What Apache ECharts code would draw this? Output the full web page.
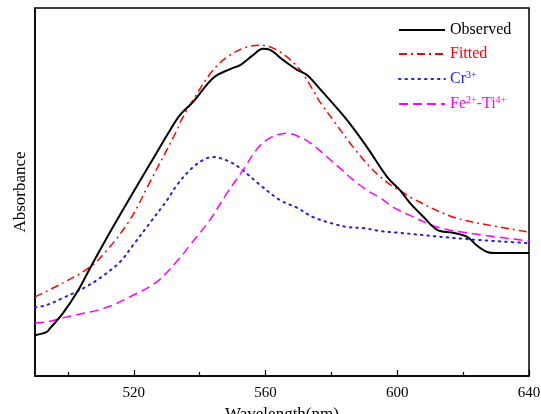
<!DOCTYPE html>
<html>
<head>
<meta charset="utf-8">
<script src="https://cdn.jsdelivr.net/npm/echarts@6/dist/echarts.min.js"></script>
<style>html,body{margin:0;padding:0;background:#fff}#c{width:541px;height:414px}</style>
</head>
<body>
<div id="c"></div>
<script>
// Wavelength (nm) and absorbance (arbitrary units)
var observedX = [490, 493.6, 494.6, 498.5, 502.8, 506.7, 509.7, 514.2, 518.8, 524.9, 531.0, 534.0, 538.0, 544.1, 549.2, 552.3, 556.2, 559.2, 561.4, 565.3, 569.6, 572.6, 576.5, 584.7, 590.8, 596.9, 600.8, 603.9, 608, 612.1, 616.9, 621.2, 624.0, 627.3, 630.0, 640];
var observedY = [0.111, 0.120, 0.130, 0.171, 0.228, 0.293, 0.342, 0.413, 0.484, 0.576, 0.668, 0.709, 0.745, 0.810, 0.834, 0.845, 0.872, 0.889, 0.886, 0.859, 0.832, 0.818, 0.780, 0.696, 0.622, 0.541, 0.505, 0.470, 0.432, 0.397, 0.389, 0.378, 0.356, 0.337, 0.334, 0.334];

var fittedX = [490, 498.5, 506.7, 511.9, 518.8, 524.9, 533.1, 534.0, 538.0, 544.1, 549.2, 554.4, 558.3, 562.3, 566.5, 570.5, 574.4, 576.5, 580.5, 586.6, 592.6, 598.7, 600.8, 603.9, 616.9, 628, 640];
var fittedY = [0.215, 0.253, 0.296, 0.342, 0.424, 0.527, 0.668, 0.688, 0.750, 0.832, 0.872, 0.894, 0.899, 0.891, 0.867, 0.832, 0.777, 0.745, 0.696, 0.622, 0.560, 0.514, 0.505, 0.486, 0.432, 0.410, 0.391];

var crX = [490, 493.6, 498.5, 504.8, 509.7, 515.8, 519.8, 524.9, 530.1, 533.1, 537.1, 541.0, 544.1, 546.2, 549.2, 552.3, 557.7, 564.4, 569.6, 574.4, 579.6, 584.7, 589.6, 594.8, 600.8, 621.2, 640];
var crY = [0.186, 0.193, 0.212, 0.239, 0.266, 0.310, 0.356, 0.416, 0.478, 0.519, 0.560, 0.587, 0.595, 0.592, 0.582, 0.565, 0.524, 0.478, 0.457, 0.432, 0.416, 0.405, 0.402, 0.394, 0.389, 0.372, 0.361];

var feTiX = [490, 493.6, 498.5, 503.4, 509.1, 513.7, 518.8, 526.9, 534.0, 537.1, 543.1, 548.3, 553.2, 557.7, 561.4, 566.5, 570.5, 574.4, 578.7, 582.6, 586.6, 590.8, 594.8, 598.7, 603.0, 612.1, 621.2, 640];
var feTiY = [0.144, 0.147, 0.158, 0.168, 0.179, 0.193, 0.215, 0.255, 0.321, 0.356, 0.424, 0.497, 0.560, 0.620, 0.647, 0.660, 0.649, 0.628, 0.595, 0.565, 0.533, 0.505, 0.484, 0.459, 0.440, 0.405, 0.389, 0.367];

var majorTicks = [520, 560, 600, 640];
var minorTicks = [500, 540, 580, 620];

var seriesNames = ['Observed', 'Fitted', 'Cr3+', 'Fe2+-Ti4+'];
var seriesColors = ['#000000', '#ff0000', '#2020e0', '#ff00ff'];

function zip(xs, ys) { return xs.map(function (x, i) { return [x, ys[i]]; }); }

var FONT = "'Liberation Serif', 'Times New Roman', serif";

function richFor(color) {
  return {
    n: { fontSize: 16, color: color, fontFamily: FONT, lineHeight: 18 },
    s: { fontSize: 10, color: color, fontFamily: FONT, verticalAlign: 'top', lineHeight: 10 }
  };
}

var legendFmt = {
  'Observed': '{n|Observed}',
  'Fitted': '{n|Fitted}',
  'Cr3+': '{n|Cr}{s|3+}',
  'Fe2+-Ti4+': '{n|Fe}{s|2+}{n|-Ti}{s|4+}'
};

var chart = echarts.init(document.getElementById('c'), null, { renderer: 'canvas' });

var option = {
  animation: false,
  backgroundColor: '#fff',
  grid: { left: 35, right: 12, top: 8, bottom: 38, outerBoundsMode: 'none', containLabel: false,
    show: true, borderColor: '#000', borderWidth: 1.5, backgroundColor: 'transparent' },
  legend: {
    orient: 'vertical',
    left: 393,
    top: 17,
    itemWidth: 46,
    itemHeight: 14,
    itemGap: 8,
    itemStyle: { opacity: 0 },
    formatter: function (name) { return legendFmt[name]; },
    data: seriesNames.map(function (n, i) {
      return { name: n, textStyle: { color: seriesColors[i], rich: richFor(seriesColors[i]) } };
    })
  },
  xAxis: [{
    type: 'value', min: 490, max: 640,
    axisLine: { show: true, lineStyle: { color: '#000', width: 1.5 } },
    axisTick: { show: true, inside: true, length: 6, customValues: majorTicks, lineStyle: { color: '#000', width: 1.2 } },
    axisLabel: { show: true, customValues: majorTicks, color: '#000', fontSize: 15, fontFamily: FONT, margin: 10 },
    splitLine: { show: false },
    name: 'Wavelength(nm)', nameLocation: 'middle', nameGap: 21,
    nameTextStyle: { color: '#000', fontSize: 17, fontFamily: FONT }
  }, {
    type: 'value', min: 490, max: 640, position: 'bottom', gridIndex: 0,
    axisLine: { show: false },
    axisTick: { show: true, inside: true, length: 4, customValues: minorTicks, lineStyle: { color: '#000', width: 1.2 } },
    axisLabel: { show: false },
    splitLine: { show: false }
  }],
  yAxis: {
    type: 'value', min: 0, max: 1,
    axisLine: { show: true, lineStyle: { color: '#000', width: 1.5 } },
    axisTick: { show: false },
    axisLabel: { show: false },
    splitLine: { show: false },
    name: 'Absorbance', nameLocation: 'middle', nameGap: 6, nameRotate: 90,
    nameTextStyle: { color: '#000', fontSize: 17, fontFamily: FONT }
  },
  series: [
    { name: seriesNames[0], type: 'line', data: zip(observedX, observedY), symbol: 'none', smooth: 0.35,
      lineStyle: { color: seriesColors[0], width: 2, type: 'solid' }, itemStyle: { color: seriesColors[0] }, z: 5 },
    { name: seriesNames[1], type: 'line', data: zip(fittedX, fittedY), symbol: 'none', smooth: 0.35,
      lineStyle: { color: seriesColors[1], width: 1.5, type: [8, 4, 2, 4] }, itemStyle: { color: seriesColors[1] } },
    { name: seriesNames[2], type: 'line', data: zip(crX, crY), symbol: 'none', smooth: 0.35,
      lineStyle: { color: seriesColors[2], width: 2, type: [1.5, 5], cap: 'round' }, itemStyle: { color: seriesColors[2] } },
    { name: seriesNames[3], type: 'line', data: zip(feTiX, feTiY), symbol: 'none', smooth: 0.35,
      lineStyle: { color: seriesColors[3], width: 1.5, type: [9, 5] }, itemStyle: { color: seriesColors[3] } }
  ]
};
chart.setOption(option);
</script>
</body>
</html>
